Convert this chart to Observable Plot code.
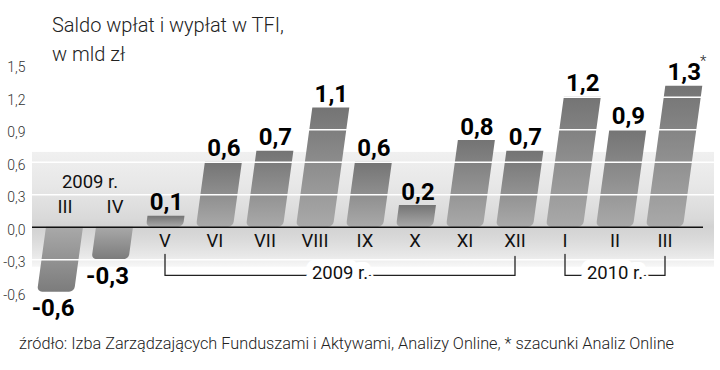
<!DOCTYPE html>
<html><head><meta charset="utf-8">
<script src="https://cdn.jsdelivr.net/npm/d3@7"></script>
<script src="https://cdn.jsdelivr.net/npm/@observablehq/plot@0.6"></script>
<style>
body{margin:0;background:#fff;}
#wrap{position:relative;width:720px;height:370px;overflow:hidden;}
#chart{position:absolute;left:0;top:0;}
#title{position:absolute;left:52px;top:11px;font:300 20px/29px Roboto,sans-serif;color:#222;white-space:nowrap;}
#caption{position:absolute;left:19px;top:334px;font:300 16.3px Roboto,sans-serif;color:#222;white-space:nowrap;}
</style></head><body>
<div id="wrap"><div id="chart"></div>
<div id="title">Saldo wpłat i wypłat w TFI,<br>w mld zł</div>
<div id="caption">źródło: Izba Zarządzających Funduszami i Aktywami, Analizy Online, * szacunki Analiz Online</div>
</div>
<script>
const months = ["III","IV","V","VI","VII","VIII","IX","X","XI","XII","I","II","III"];
const years  = [2009,2009,2009,2009,2009,2009,2009,2009,2009,2009,2010,2010,2010];
const values = [-0.6,-0.3,0.1,0.6,0.7,1.1,0.6,0.2,0.8,0.7,1.2,0.9,1.3];
const notes  = ["","","","","","","","","","","","","*"];
const yTicks = [-0.6,-0.3,0,0.3,0.6,0.9,1.2,1.5];
const gridValues = [-0.3,0.3,0.6,0.9,1.2];
const yearBrackets = [
  {label:"2009 r.", from:"2009-V", to:"2009-XII"},
  {label:"2010 r.", from:"2010-I", to:"2010-III"}
];
const topYearLabel = [{label:"2009 r.", from:"2009-III", to:"2009-IV"}];

const SLOPE = 0.137;
const PAD = 0.262;
const NUM_FONT = "Roboto, sans-serif";
const LBL_FONT = "Roboto, sans-serif";
const fmt = d => d.toFixed(1).replace(".", ",");

const keys = months.map((m,i)=>`${years[i]}-${m}`);
const data = keys.map((k,i)=>({key:k, month:months[i], value:values[i], note:notes[i]}));
const pos = data.filter(d=>d.value>=0), neg = data.filter(d=>d.value<0);

const bracketPts = yearBrackets.flatMap(b => [
  {label:b.label, x:b.from, y:-0.25},
  {label:b.label, x:b.from, y:-0.445},
  {label:b.label, x:b.to, y:-0.445},
  {label:b.label, x:b.to, y:-0.27}
]);

function skew(index, scales, vals, dims, ctx, next) {
  const g = next(index, scales, vals, dims, ctx);
  const y0 = scales.y(0);
  const t = g.getAttribute("transform") || "";
  const a = -Math.atan(SLOPE)*180/Math.PI;
  g.setAttribute("transform", `${t} translate(0,${y0}) skewX(${a}) translate(0,${-y0})`);
  return g;
}
function follow(index, scales, vals, dims, ctx, next) {
  const y0 = scales.y(0);
  const X = Array.from(vals.x, (x,i)=> x + SLOPE*(y0 - vals.y[i]));
  return next(index, scales, {...vals, x: X}, dims, ctx);
}
function midOf(arr) {
  return function(index, scales, vals, dims, ctx, next) {
    const X = arr.map(d => (scales.x(d.from) + scales.x(d.to))/2);
    return next(index, scales, {...vals, x: X}, dims, ctx);
  };
}

const plot = Plot.plot({
  width:720, height:370,
  marginLeft:27, marginRight:19, marginTop:64.2, marginBottom:78.3,
  style:{fontFamily:"Roboto, sans-serif", background:"transparent"},
  x:{type:"band", domain:keys, paddingInner:PAD, paddingOuter:PAD, axis:null},
  y:{domain:[-0.6,1.5], axis:null},
  marks:[
    Plot.rect([0], {y1:0.69, y2:-0.37, fill:"url(#bandGrad)", insetLeft:5, insetRight:-13}),
    Plot.barY(pos, {x:"key", y:"value", fill:"url(#gPos)", ry2:5, render:skew}),
    Plot.barY(neg, {x:"key", y:"value", fill:"url(#gNeg)", ry2:5, render:skew}),
    Plot.ruleY(gridValues, {stroke:"white", strokeWidth:1.6, insetLeft:5, insetRight:-13}),
    Plot.ruleY([0], {stroke:"#111", strokeWidth:1.6, insetLeft:5, insetRight:-2}),
    Plot.axisY(yTicks, {tickSize:0, tickPadding:2, tickFormat:fmt, label:null, fontSize:14, fontWeight:300, fill:"#333", dy:3}),
    Plot.text(pos, {x:"key", y:0, text:"month", dy:14, lineAnchor:"middle", fontSize:18.5, fontFamily:LBL_FONT, fill:"#111"}),
    Plot.text(neg, {x:"key", y:0, text:"month", dy:-20, lineAnchor:"middle", fontSize:18.5, fontFamily:LBL_FONT, fill:"#111"}),
    Plot.text(topYearLabel, {x:"from", y:0, text:"label", dy:-45, lineAnchor:"middle", fontSize:18.5, fontFamily:LBL_FONT, fill:"#111", render:midOf(topYearLabel)}),
    Plot.line(bracketPts, {x:"x", y:"y", z:"label", stroke:"#222", strokeWidth:1.3}),
    Plot.text(yearBrackets, {x:"from", y:-0.42, text:"label", lineAnchor:"middle", fontSize:18.5, fontFamily:LBL_FONT, fill:"#111", stroke:"white", strokeWidth:14, render:midOf(yearBrackets)}),
    Plot.text(pos, {x:"key", y:"value", text:d=>fmt(d.value), lineAnchor:"bottom", dy:-6, fontSize:24, fontWeight:"bold", fontFamily:NUM_FONT, fill:"#000", render:follow}),
    Plot.text(neg, {x:"key", y:"value", text:d=>fmt(d.value), lineAnchor:"top", dy:7, dx:-3, fontSize:24, fontWeight:"bold", fontFamily:NUM_FONT, fill:"#000", render:follow}),
    Plot.text(data.filter(d=>d.note), {x:"key", y:"value", text:"note", lineAnchor:"bottom", dx:19, dy:-20, fontSize:15, fontWeight:300, fontFamily:LBL_FONT, fill:"#222", render:follow})
  ]
});

const NS = "http://www.w3.org/2000/svg";
const defs = document.createElementNS(NS, "defs");
function grad(id, stops) {
  const g = document.createElementNS(NS, "linearGradient");
  g.setAttribute("id", id); g.setAttribute("x1","0"); g.setAttribute("y1","0"); g.setAttribute("x2","0"); g.setAttribute("y2","1");
  for (const [o,c] of stops) {
    const s = document.createElementNS(NS, "stop");
    s.setAttribute("offset", o); s.setAttribute("stop-color", c);
    g.appendChild(s);
  }
  defs.appendChild(g);
}
grad("gPos", [[0,"#747474"],[1,"#a9a9a9"]]);
grad("gNeg", [[0,"#a9a9a9"],[1,"#7c7c7c"]]);
grad("bandGrad", [[0,"#f0f0f0"],[0.3,"#e7e7e7"],[0.58,"#d9d9d9"],[0.65,"#d2d2d2"],[0.75,"#d9d9d9"],[0.9,"#e8e8e8"],[1,"#f7f7f7"]]);
plot.insertBefore(defs, plot.firstChild);
document.getElementById("chart").appendChild(plot);
</script>
</body></html>
